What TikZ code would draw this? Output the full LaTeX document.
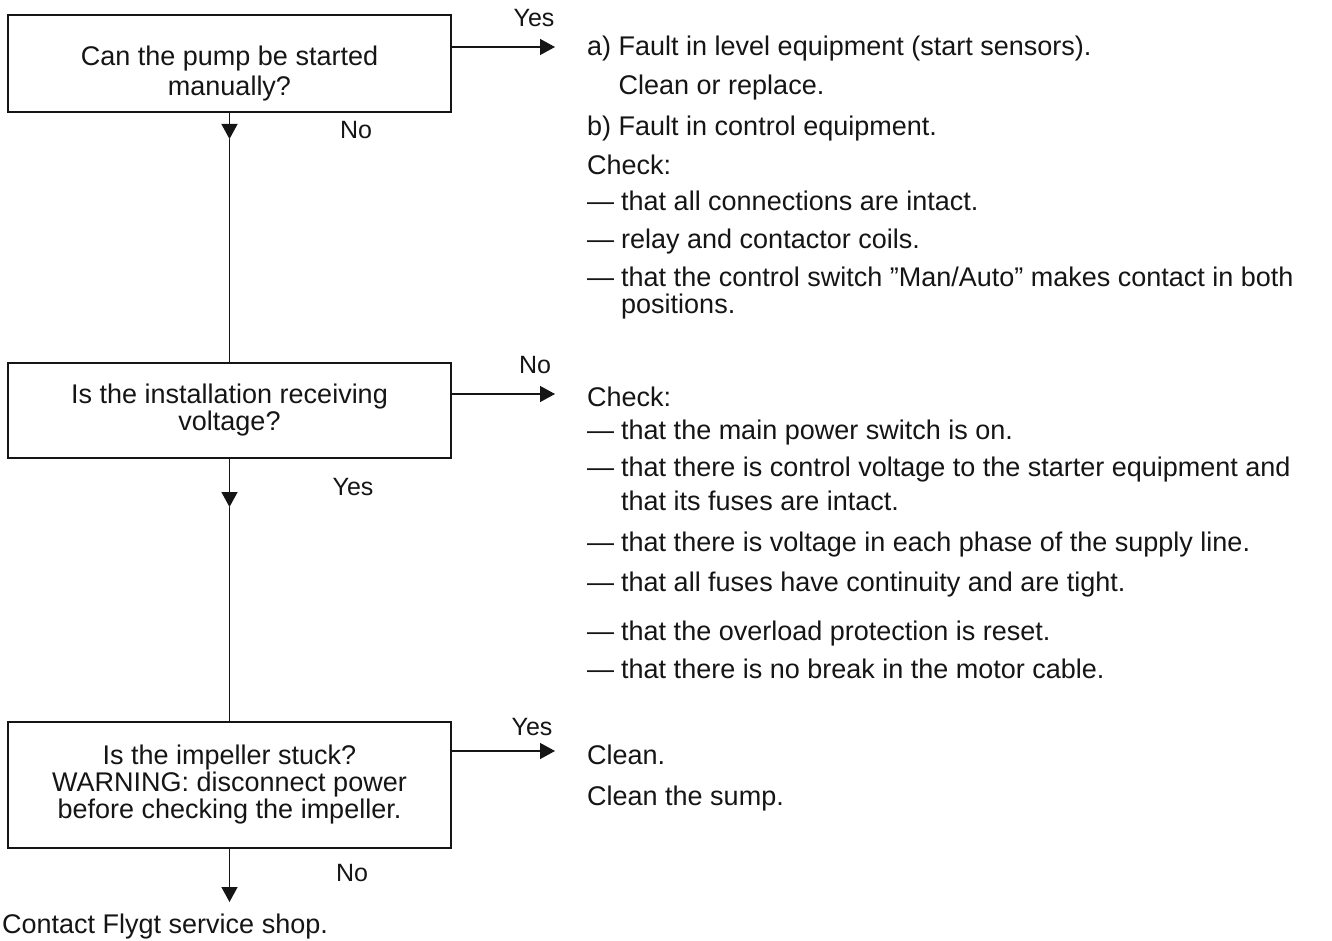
\documentclass[tikz,border=0pt]{standalone}
\usepackage{fontspec}
\setmainfont{Liberation Sans}
\usetikzlibrary{arrows.meta,positioning}
\definecolor{Toner}{HTML}{151515}
\newcommand{\dashlead}{\makebox[34pt][l]{—}}
\newcommand{\hangin}{\hspace*{34pt}}

\begin{document}
\begin{tikzpicture}[x=1pt, y=-1pt, every node/.style={inner sep=0pt, text=Toner},
    font=\fontsize{27}{27}\selectfont,
    question/.style={draw=Toner, line width=1.4pt, minimum width=443pt, align=center},
    flow/.style={-{Triangle[length=15pt,width=16pt]}, line width=1.4pt, Toner},
    link/.style={line width=1.4pt, Toner},
    verdict/.style={font=\fontsize{25}{25}\selectfont},
    answer/.style={anchor=base west}]
      \useasboundingbox (0,0) rectangle (1332,941);

      % decision boxes
      \node[question, minimum height=97pt, font=\fontsize{27}{30}\selectfont] (q1) at (229.5,63.5) {\rule{0pt}{39pt}Can the pump be started\\manually?};
      \node[question, minimum height=95pt] (q2) at (229.5,410.5) {Is the installation receiving\\voltage?};
      \node[question, minimum height=126pt] (q3) at (229.5,785) {Is the impeller stuck?\\WARNING: disconnect power\\before checking the impeller.};

      % arrow tips
      \coordinate (t1) at (229.5,139);
      \coordinate (t2) at (229.5,507);
      \coordinate (t3) at (229.5,902);
      \coordinate (r1) at (555,47);
      \coordinate (r2) at (555,394);
      \coordinate (r3) at (555,751);

      \draw[flow] (q1) -- (t1);
      \draw[link] (t1) -- (q2);
      \draw[flow] (q2) -- (t2);
      \draw[link] (t2) -- (q3);
      \draw[flow] (q3) -- (t3);
      \draw[flow] (q1.east |- r1) -- (r1);
      \draw[flow] (q2.east |- r2) -- (r2);
      \draw[flow] (q3.east |- r3) -- (r3);

      % yes / no
      \node[verdict] (yes1) at (534,18) {Yes};
      \node[verdict] (no1) at (356,130) {No};
      \node[verdict] (no2) at (535,365) {No};
      \node[verdict] (yes2) at (353,487) {Yes};
      \node[verdict] (yes3) at (532,727) {Yes};
      \node[verdict] (no3) at (352,873) {No};

      % remedies
      \node[answer] (a1) at (587,56) {a) Fault in level equipment (start sensors).};
      \node[answer] (a2) at (587,95) {\hphantom{a)} Clean or replace.};
      \node[answer] (a3) at (587,136) {b) Fault in control equipment.};
      \node[answer] (a4) at (587,175) {Check:};
      \node[answer] (a5) at (587,211) {\dashlead that all connections are intact.};
      \node[answer] (a6) at (587,249) {\dashlead relay and contactor coils.};
      \node[answer] (a7) at (587,286) {\dashlead that the control switch ''Man/Auto'' makes contact in both};
      \node[answer] (a8) at (587,313) {\hangin positions.};
      \node[answer] (b1) at (587,406) {Check:};
      \node[answer] (b2) at (587,439) {\dashlead that the main power switch is on.};
      \node[answer] (b3) at (587,476) {\dashlead that there is control voltage to the starter equipment and};
      \node[answer] (b4) at (587,510) {\hangin that its fuses are intact.};
      \node[answer] (b5) at (587,551) {\dashlead that there is voltage in each phase of the supply line.};
      \node[answer] (b6) at (587,591) {\dashlead that all fuses have continuity and are tight.};
      \node[answer] (b7) at (587,640) {\dashlead that the overload protection is reset.};
      \node[answer] (b8) at (587,678) {\dashlead that there is no break in the motor cable.};
      \node[answer] (c1) at (587,764) {Clean.};
      \node[answer] (c2) at (587,805) {Clean the sump.};
      \node[answer] (d1) at (2,933) {Contact Flygt service shop.};
    \end{tikzpicture}
\end{document}
